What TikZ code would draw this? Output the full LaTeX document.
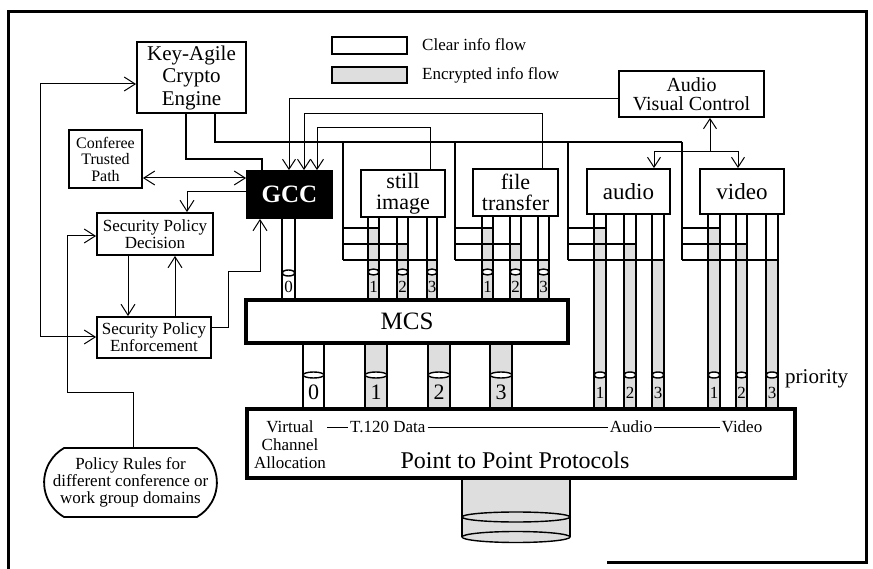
\documentclass[tikz,border=0pt]{standalone}
\usepackage{fontspec}
\setmainfont{Liberation Serif}
\usetikzlibrary{arrows.meta,calc,shapes.misc}
\begin{document}
\begin{tikzpicture}[x=1pt,y=-1pt,
  >={Straight Barb[length=11pt,width=14pt]},
  box/.style={draw,line width=1.8pt,fill=white,inner sep=0pt,align=center},
  conn/.style={line width=1pt},
  keyline/.style={line width=1.5pt},
  pipeline/.style={line width=1.4pt},
  thickbox/.style={draw,line width=4.5pt,fill=white,inner sep=0pt},
  encfill/.style={fill=black!13}]
\useasboundingbox (0,0) rectangle (873,569);
% frame
\draw[line width=3pt] (8,569) -- (8,12) -- (866,12) -- (866,562) -- (607,562);

% pipes: xl/xr/top/key/cap/bottom/label/fontsize
\def\pipelist{282/295/218/298/273/298/0/17,
 368/379/217/228/272/298/1/17, 397/408/217/244/272/298/2/17, 427/437/217/260/272/298/3/17,
 482/493/216/228/272/298/1/17, 510/521/216/244/272/298/2/17, 538/549/216/260/272/298/3/17,
 594/606/214/228/375/407/1/17, 624/636/214/244/375/407/2/17, 652/664/214/260/375/407/3/17,
 708/720/214/228/375/407/1/17, 736/747/214/244/375/407/2/17, 766/778/214/260/375/407/3/17,
 303/324/345/407/375/407/0/22, 365/387/345/345/375/407/1/22, 428/450/345/345/375/407/2/22, 490/512/345/345/375/407/3/22}
\foreach \xl/\xr/\yt/\yk/\yc/\yb/\lab/\fsz in \pipelist {
  \fill[white] (\xl,\yt) rectangle (\xr,\yb);
  \fill[encfill] (\xl,\yk) rectangle (\xr,\yb);
  \draw[pipeline] (\xl,\yt) -- (\xl,\yb) (\xr,\yt) -- (\xr,\yb);
}
% key distribution cross-bars
\foreach \vx/\ra/\rb/\rc in {343/379/408/437, 455/493/521/549, 568/606/636/664, 682/720/747/778}{
  \draw[keyline] (\vx,142) -- (\vx,260);
  \draw[keyline] (\vx,228) -- (\ra,228);
  \draw[keyline] (\vx,244) -- (\rb,244);
  \draw[keyline] (\vx,260) -- (\rc,260);
}
% caps and channel numbers
\foreach \xl/\xr/\yt/\yk/\yc/\yb/\lab/\fsz [count=\i] in \pipelist {
  \pgfmathsetmacro\rx{(\xr-\xl)/2}
  \pgfmathsetmacro\cx{(\xl+\xr)/2}
  \pgfmathsetmacro\ly{(\yc+\yb)/2+1.5}
  \draw[pipeline,fill=white] (\cx,\yc) ellipse (\rx pt and 3pt);
  \node[font=\fontsize{\fsz}{\fsz}\selectfont,inner sep=0pt] (pl\i) at (\cx,\ly) {\lab};
}

% bottom cylinder
\fill[encfill] (462,480) rectangle (570,537);
\fill[encfill] (516,537) ellipse (54pt and 5.5pt);
\draw[pipeline] (462,480) -- (462,537) (570,480) -- (570,537);
\draw[pipeline] (516,517) ellipse (54pt and 5pt);
\draw[pipeline] (516,537) ellipse (54pt and 5.5pt);

% boxes
\node[box,minimum width=109,minimum height=71,font=\fontsize{21}{22.5}\selectfont] (key) at (191.5,77.5) {Key-Agile\\Crypto\\Engine};
\node[box,minimum width=73,minimum height=58,font=\fontsize{16}{16.5}\selectfont] (conf) at (105.5,159) {Conferee\\Trusted\\Path};
\node[draw,fill=black,line width=1.8pt,inner sep=0pt,minimum width=85,minimum height=47,text=white,font=\fontsize{25}{25}\selectfont\bfseries] (gcc) at (289.5,194.5) {GCC};
\node[box,minimum width=116,minimum height=42,font=\fontsize{17}{17}\selectfont] (dec) at (155,234) {Security Policy\\Decision};
\node[box,minimum width=114,minimum height=41,font=\fontsize{17}{17}\selectfont] (enf) at (154,337.5) {Security Policy\\Enforcement};
\node[box,rounded rectangle,rounded rectangle arc length=120,minimum width=165,minimum height=69,font=\fontsize{17}{17}\selectfont] (rules) at (130.5,482.5) {Policy Rules for\\different conference or\\work group domains};

\node[box,line width=1.5pt,minimum width=75,minimum height=17] (lclear) at (369.5,45.5) {};
\node[box,line width=1.5pt,fill=black!13,minimum width=75,minimum height=16] (lenc) at (369.5,75) {};
\node[anchor=west,inner sep=0pt,font=\fontsize{17}{17}\selectfont] (tclear) at (422,45) {Clear info flow};
\node[anchor=west,inner sep=0pt,font=\fontsize{17}{17}\selectfont] (tenc) at (422,75) {Encrypted info flow};

\node[box,minimum width=145,minimum height=46,font=\fontsize{20}{19.5}\selectfont] (avc) at (691.5,94) {Audio\\Visual Control};
\node[box,minimum width=84,minimum height=47,font=\fontsize{22}{21}\selectfont] (still) at (403,193.5) {still\\image};
\node[box,minimum width=85,minimum height=47,font=\fontsize{22}{21}\selectfont] (file) at (515.5,192.5) {file\\transfer};
\node[box,minimum width=83,minimum height=45,font=\fontsize{23}{23}\selectfont] (audio) at (628.5,191.5) {audio};
\node[box,minimum width=84,minimum height=45,font=\fontsize{23}{23}\selectfont] (video) at (742,191.5) {video};

\node[thickbox,minimum width=322,minimum height=43,font=\fontsize{25}{25}\selectfont] (mcs) at (407,321.5) {MCS};
\node[thickbox,minimum width=548,minimum height=69] (ptp) at (521,443.5) {};
\node[align=center,inner sep=1pt,font=\fontsize{17}{18}\selectfont] (vca) at (290,445) {Virtual\\Channel\\Allocation};
\node[anchor=west,inner sep=2pt,font=\fontsize{17}{17}\selectfont] (t120) at (348,427) {T.120 Data};
\node[inner sep=2pt,font=\fontsize{17}{17}\selectfont] (aud) at (631,427) {Audio};
\node[inner sep=2pt,font=\fontsize{17}{17}\selectfont] (vid) at (742,427) {Video};
\draw[conn] (vca.east |- t120.west) -- (t120.west);
\draw[conn] (t120.east) -- (aud.west);
\draw[conn] (aud.east) -- (vid.west);
\node[font=\fontsize{24}{24}\selectfont] (ptptxt) at (515,460) {Point to Point Protocols};
\node[anchor=base west,inner sep=0pt,font=\fontsize{21}{21}\selectfont] (prio) at (785,383) {priority};

% key engine lines
\draw[keyline] (key.south -| 215,0) |- (682,142);
\draw[keyline] (key.south -| 186,0) |- (262,159) -- (gcc.north -| 262,0);

% connectors
\draw[conn,<->] (key.west |- 0,84) -| (40,337) -- (enf.west |- 0,337);
\draw[conn,<->] (conf.east |- 0,178) -- (gcc.west |- 0,178);
\draw[conn,->] (gcc.west |- 0,192) -| (dec.north -| 187,0);
\draw[conn,->] (dec.south -| 128,0) -- (enf.north -| 128,0);
\draw[conn,->] (enf.north -| 175,0) -- (dec.south -| 175,0);
\draw[conn,->] (enf.east |- 0,328) -| (228,272) -| (gcc.south -| 260,0);
\draw[conn,->] (rules.north -| 133,0) |- (67,392) |- (dec.west |- 0,236);

\begin{scope}[>={Straight Barb[length=10pt,width=13pt]}]
\draw[conn,->] (avc.west |- 0,99) -| (gcc.north -| 289,0);
\draw[conn,->] (file.north -| 542,0) |- (304,114) -- (gcc.north -| 304,0);
\draw[conn,->] (still.north -| 430,0) |- (317,128) -- (gcc.north -| 317,0);
\coordinate (avj) at (710,152);
\draw[conn,->] (avj) -- (avc.south -| avj);
\draw[conn,->] (avj) -| (audio.north -| 654,0);
\draw[conn,->] (avj) -| (video.north -| 738,0);
\end{scope}
\end{tikzpicture}
\end{document}
